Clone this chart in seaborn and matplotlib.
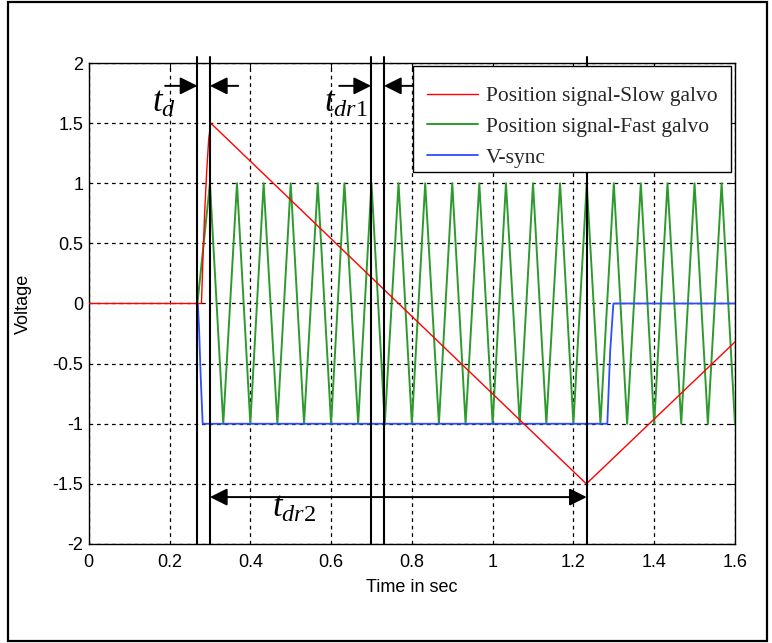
import matplotlib
matplotlib.use("Agg")
import matplotlib.pyplot as plt
import seaborn as sns
import pandas as pd
from matplotlib import font_manager
from matplotlib.patches import Rectangle

# Slow galvo position signal (sawtooth-like ramp)
slow_t = [0.0, 0.279, 0.283, 0.287, 0.292, 0.297, 0.302, 1.232, 1.6]
slow_v = [0.0, 0.0, 0.40, 0.76, 1.10, 1.37, 1.50, -1.50, -0.32]

# Fast galvo position signal (triangle wave vertices)
fast_t = [0.269, 0.300, 0.333, 0.367, 0.400, 0.433, 0.467, 0.500, 0.533, 0.567,
          0.600, 0.633, 0.667, 0.700, 0.733, 0.767, 0.800, 0.833, 0.867, 0.900,
          0.933, 0.967, 1.000, 1.033, 1.067, 1.100, 1.133, 1.167, 1.200, 1.233,
          1.267, 1.300, 1.333, 1.367, 1.400, 1.433, 1.467, 1.500, 1.533, 1.567,
          1.600]
fast_v = [0.0, 1, -1, 1, -1, 1, -1, 1, -1, 1,
          -1, 1, -1, 1, -1, 1, -1, 1, -1, 1,
          -1, 1, -1, 1, -1, 1, -1, 1, -1, 1,
          -1, 1, -1, 1, -1, 1, -1, 1, -1, 1,
          -1]

# V-sync signal
vsync_t = [0.270, 0.273, 0.277, 0.282, 1.284, 1.291, 1.299, 1.6]
vsync_v = [0.0, -0.2, -0.6, -1.0, -1.0, -0.4, 0.0, 0.0]

series_labels = ["Position signal-Slow galvo", "Position signal-Fast galvo", "V-sync"]
series_colors = ["#ff0000", "#2e9a2e", "#2f4cff"]

# Timing markers
t_d = [0.269, 0.300]
t_dr1 = [0.699, 0.731]
t_dr2 = [0.300, 1.233]

x_ticks = [0, 0.2, 0.4, 0.6, 0.8, 1.0, 1.2, 1.4, 1.6]
x_tick_labels = ["0", "0.2", "0.4", "0.6", "0.8", "1", "1.2", "1.4", "1.6"]
y_ticks = [-2, -1.5, -1, -0.5, 0, 0.5, 1, 1.5, 2]
y_tick_labels = ["-2", "-1.5", "-1", "-0.5", "0", "0.5", "1", "1.5", "2"]

sns.set_theme(style="white")
names = {f.name for f in font_manager.fontManager.ttflist}
if "Liberation Sans Narrow" in names:
    sans, fs = "Liberation Sans Narrow", 15
else:
    sans, fs = "Liberation Sans", 13
plt.rcParams["font.family"] = [sans, "DejaVu Sans"]
plt.rcParams["mathtext.fontset"] = "custom"
plt.rcParams["mathtext.it"] = "Liberation Serif:italic"
plt.rcParams["mathtext.rm"] = "Liberation Serif"

fig = plt.figure(figsize=(7.72, 6.43), dpi=100)
fig.patch.set_facecolor("white")
ax = fig.add_axes([0.115, 0.154, 0.837, 0.748])

slow = pd.DataFrame({"t": slow_t, "v": slow_v})
fast = pd.DataFrame({"t": fast_t, "v": fast_v})
vsync = pd.DataFrame({"t": vsync_t, "v": vsync_v})

sns.lineplot(data=fast, x="t", y="v", ax=ax, color=series_colors[1], lw=1.4,
             sort=False, estimator=None, label=series_labels[1], zorder=3)
sns.lineplot(data=vsync, x="t", y="v", ax=ax, color=series_colors[2], lw=1.3,
             sort=False, estimator=None, label=series_labels[2], zorder=3.5)
sns.lineplot(data=slow, x="t", y="v", ax=ax, color=series_colors[0], lw=1.0,
             sort=False, estimator=None, label=series_labels[0], zorder=4)

ax.set_xlim(0, 1.6)
ax.set_ylim(-2, 2)
ax.set_xticks(x_ticks)
ax.set_xticklabels(x_tick_labels)
ax.set_yticks(y_ticks)
ax.set_yticklabels(y_tick_labels)
ax.grid(True, color="black", linestyle=(0, (3, 3)), linewidth=0.9)
ax.set_axisbelow(True)
ax.tick_params(axis="both", direction="in", length=4, width=0.8, top=True, right=True,
               labelsize=fs, colors="black")
ax.tick_params(axis="x", pad=7)
ax.tick_params(axis="y", pad=4)
for s in ax.spines.values():
    s.set_color("black")
    s.set_linewidth(1.0)
ax.set_xlabel("Time in sec", fontsize=fs, labelpad=6, color="black")
ax.set_ylabel("Voltage", fontsize=fs, color="black")
ax.yaxis.set_label_coords(-0.088, 0.5)

# Vertical timing lines
for xv in t_d + t_dr1 + [t_dr2[1]]:
    ax.plot([xv, xv], [-2, 2.05], color="black", lw=1.5, clip_on=False, zorder=5)

arrow_kw = dict(arrowstyle="-|>,head_length=0.5,head_width=0.25", color="black",
                lw=1.4, mutation_scale=21, shrinkA=0, shrinkB=0)
y_arr = 1.81
ax.annotate("", xy=(t_d[0], y_arr), xytext=(0.189, y_arr), arrowprops=arrow_kw, zorder=5)
ax.annotate("", xy=(t_d[1], y_arr), xytext=(0.370, y_arr), arrowprops=arrow_kw, zorder=5)
ax.annotate("", xy=(t_dr1[0], y_arr), xytext=(0.620, y_arr), arrowprops=arrow_kw, zorder=5)
ax.annotate("", xy=(t_dr1[1], y_arr), xytext=(0.820, y_arr), arrowprops=arrow_kw, zorder=5)
ax.annotate("", xy=(t_dr2[1], -1.61), xytext=(t_dr2[0], -1.61),
            arrowprops=dict(arrow_kw, arrowstyle="<|-|>,head_length=0.5,head_width=0.25"),
            zorder=5)

ax.text(0.157, 1.59, r"$t_{d}$", fontsize=25, color="black", ha="left", va="baseline")
ax.text(0.583, 1.59, r"$t_{dr1}$", fontsize=25, color="black", ha="left", va="baseline")
ax.text(0.454, -1.775, r"$t_{dr2}$", fontsize=25, color="black", ha="left", va="baseline")

# Legend box: white panel with a thin black frame, entries placed inside it
ax.add_patch(Rectangle((0.5019, 0.7734), 0.4923, 0.2204, transform=ax.transAxes,
                       facecolor="white", edgecolor="black", lw=1.0, zorder=9,
                       clip_on=False))
handles, labels = ax.get_legend_handles_labels()
order = [labels.index(l) for l in series_labels]
leg = ax.legend([handles[i] for i in order], [labels[i] for i in order],
                loc="upper left", bbox_to_anchor=(0.5235, 0.952), borderaxespad=0,
                prop={"family": "Liberation Serif", "size": 15.5},
                handlelength=2.37, handletextpad=0.37, labelspacing=0.5,
                borderpad=0, frameon=False)
leg.set_zorder(10)

# Outer frame around the whole figure
fig.patches.append(Rectangle((0.0104, 0.003), 0.983, 0.994, transform=fig.transFigure,
                             fill=False, edgecolor="black", lw=1.6))

fig.savefig("out.png", dpi=100)
